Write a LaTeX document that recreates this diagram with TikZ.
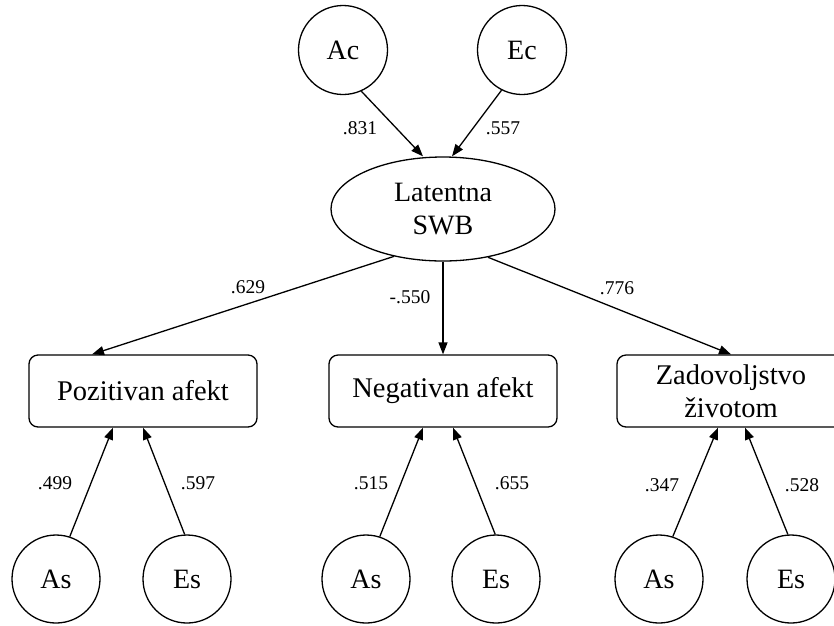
\documentclass[tikz,border=0pt]{standalone}
\usepackage{fontspec}
\setmainfont{Liberation Serif}
\usetikzlibrary{arrows.meta,shapes.geometric}
\tikzset{
  every path/.style={line width=1.3pt},
  lat/.style={circle,draw,minimum size=89pt,inner sep=0pt,font=\fontsize{28}{33}\selectfont},
  latsmall/.style={circle,draw,minimum size=88pt,inner sep=0pt,font=\fontsize{28}{33}\selectfont},
  ell/.style={ellipse,draw,minimum width=224pt,minimum height=104pt,inner sep=0pt,align=center,font=\fontsize{28}{33}\selectfont},
  obs/.style={rectangle,rounded corners=9pt,draw,minimum width=228pt,minimum height=72pt,inner sep=0pt,align=center,font=\fontsize{28.5}{33}\selectfont},
  coef/.style={inner sep=0pt,font=\fontsize{19.5}{22}\selectfont},
  arr/.style={-{Triangle[length=12pt,width=9pt]}}
}
\begin{document}
\begin{tikzpicture}[x=1pt,y=-1pt]
\useasboundingbox (0,0) rectangle (834,625);
% latent
\node[lat] (Ac) at (343,50) {Ac};
\node[lat] (Ec) at (522,50) {Ec};
\node[ell] (L) at (443,209) {Latentna\\SWB};
% observed
\node[obs] (P) at (143,391) {Pozitivan afekt};
\node[obs] (N) at (443,391) {Negativan afekt};
\node[obs] (Z) at (731,391) {Zadovoljstvo\\životom};
% specific
\node[latsmall] (As1) at (56,579) {As};
\node[latsmall] (Es1) at (187,579) {Es};
\node[latsmall] (As2) at (366,579) {As};
\node[latsmall] (Es2) at (496,579) {Es};
\node[latsmall] (As3) at (659,579) {As};
\node[latsmall] (Es3) at (791,579) {Es};
% arrows
\draw[arr] (Ac.-66) -- ([xshift=-20pt]L.north);
\draw[arr] (Ec.-117) -- ([xshift=9pt]L.north);
\draw[arr] (L.224) -- ([xshift=-51pt]P.north);
\draw[arr] (L.south) -- (N.north);
\draw[arr] (L.-47) -- (Z.north);
\draw[arr] (As1.72) -- ([xshift=-30pt]P.south);
\draw[arr] (Es1.93) -- (P.south);
\draw[arr] (As2.72) -- ([xshift=-20pt]N.south);
\draw[arr] (Es2.91) -- ([xshift=10pt]N.south);
\draw[arr] (As3.72) -- ([xshift=-13pt]Z.south);
\draw[arr] (Es3.94) -- ([xshift=14pt]Z.south);
% coefficients
\node[coef] (c1) at (360,128) {.831};
\node[coef] (c2) at (503,128) {.557};
\node[coef] (c3) at (248,287) {.629};
\node[coef] (c4) at (410,297) {-.550};
\node[coef] (c5) at (617,288) {.776};
\node[coef] (c6) at (55,483) {.499};
\node[coef] (c7) at (198,483) {.597};
\node[coef] (c8) at (371,483) {.515};
\node[coef] (c9) at (512,483) {.655};
\node[coef] (c10) at (662,485) {.347};
\node[coef] (c11) at (802,485) {.528};
\end{tikzpicture}
\end{document}
